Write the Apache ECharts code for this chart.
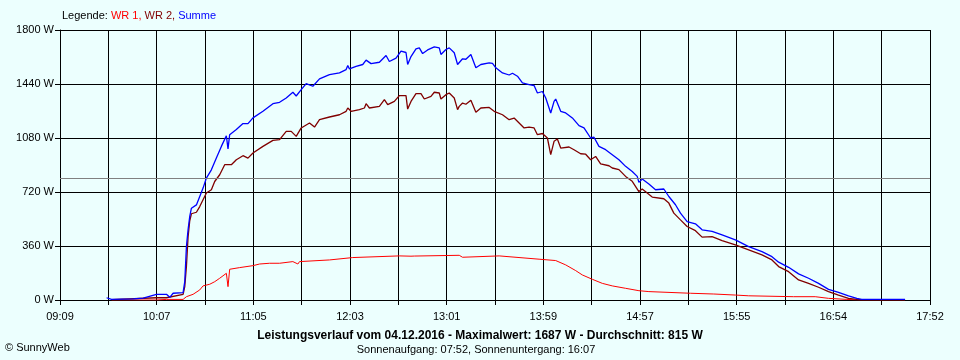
<!DOCTYPE html>
<html>
<head>
<meta charset="utf-8">
<script src="https://cdn.jsdelivr.net/npm/echarts@6/dist/echarts.min.js"></script>
<style>
  html, body { margin: 0; padding: 0; background: #ecfffe; }
  #chart { width: 960px; height: 360px; }
</style>
</head>
<body>
<div id="chart"></div>
<script>
// ---- data (time of day, watts) ----
const xTickLabels = ["09:09","10:07","11:05","12:03","13:01","13:59","14:57","15:55","16:54","17:52"];
const yTickValues = [0, 360, 720, 1080, 1440, 1800];
const averageValue = 815;

const wr1 = [
  ["09:40",0],["10:07",0],["10:13",4],["10:23",4],["10:25",22],["10:29",38],["10:33",67],["10:35",94],
  ["10:39",105],["10:42",122],["10:45",145],["10:49",178],["10:50",89],["10:51",205],["10:57",216],
  ["11:05",229],["11:09",240],["11:15",245],["11:21",245],["11:29",256],["11:32",240],["11:33",256],
  ["11:51",267],["12:05",283],["12:33",294],["12:40",292],["12:41",282],["12:42",293],["13:09",298],
  ["13:11",285],["13:12",298],["13:33",294],["13:57",272],["14:07",263],["14:13",234],["14:19",196],
  ["14:23",167],["14:29",138],["14:35",111],["14:41",94],["14:49",78],["14:57",62],["15:03",56],
  ["15:28",45],["15:42",40],["15:55",33],["16:03",28],["16:30",22],["16:43",22],["16:44",16],
  ["16:51",11],["17:02",4],["17:10",0],["17:37",0]
];

const wr2 = [
  ["09:40",3],["10:07",15],["10:13",15],["10:23",38],["10:24",89],["10:25",223],["10:26",420],["10:27",528],
  ["10:28",575],["10:31",585],["10:33",623],["10:35",668],["10:37",713],["10:40",735],["10:42",790],
  ["10:45",835],["10:48",902],["10:49",910],["10:52",902],["10:55",935],["10:59",962],["11:02",946],
  ["11:05",980],["11:11",1024],["11:17",1064],["11:21",1069],["11:25",1124],["11:28",1124],["11:31",1091],
  ["11:34",1147],["11:39",1180],["11:42",1153],["11:45",1202],["11:51",1220],["11:57",1235],["12:01",1258],
  ["12:02",1280],["12:04",1258],["12:09",1269],["12:12",1280],["12:13",1309],["12:15",1280],["12:21",1291],
  ["12:24",1336],["12:26",1302],["12:30",1324],["12:33",1363],["12:37",1363],["12:38",1273],["12:40",1324],
  ["12:43",1376],["12:46",1376],["12:48",1340],["12:52",1358],["12:54",1385],["12:57",1380],["12:58",1340],
  ["13:01",1369],["13:03",1380],["13:06",1347],["13:08",1269],["13:09",1291],["13:11",1313],["13:13",1305],
  ["13:16",1331],["13:19",1251],["13:22",1280],["13:27",1284],["13:30",1258],["13:35",1235],["13:39",1202],
  ["13:42",1213],["13:45",1180],["13:48",1147],["13:51",1153],["13:54",1147],["13:56",1102],["13:59",1110],
  ["14:02",1080],["14:04",969],["14:06",1058],["14:08",1073],["14:10",1013],["14:15",1020],["14:18",1002],
  ["14:22",975],["14:25",972],["14:28",935],["14:31",957],["14:34",908],["14:39",895],["14:41",880],
  ["14:45",869],["14:49",824],["14:53",791],["14:57",723],["14:59",740],["15:05",686],["15:12",675],
  ["15:15",646],["15:18",579],["15:22",534],["15:26",490],["15:31",462],["15:35",419],["15:41",423],
  ["15:47",396],["15:55",367],["16:03",334],["16:11",301],["16:17",267],["16:21",223],["16:27",189],
  ["16:33",134],["16:39",111],["16:45",85],["16:51",56],["16:57",33],["17:03",11],["17:08",4],["17:37",2]
];

const summe = [
  ["09:37",15],["09:38",15],["09:40",4],["09:53",7],["09:59",13],["10:07",38],["10:13",38],["10:15",18],
  ["10:17",45],["10:23",49],["10:24",122],["10:25",356],["10:26",470],["10:27",557],["10:28",612],
  ["10:31",634],["10:33",690],["10:35",746],["10:37",813],["10:40",868],["10:43",946],["10:46",1024],
  ["10:49",1095],["10:50",1007],["10:51",1102],["10:55",1136],["10:59",1176],["11:02",1176],["11:05",1214],
  ["11:11",1258],["11:17",1309],["11:21",1318],["11:25",1347],["11:29",1385],["11:31",1360],["11:34",1403],
  ["11:37",1443],["11:41",1425],["11:45",1474],["11:51",1503],["11:57",1514],["12:01",1536],["12:02",1563],
  ["12:03",1541],["12:07",1558],["12:11",1570],["12:13",1599],["12:16",1576],["12:21",1585],["12:25",1630],
  ["12:27",1590],["12:31",1612],["12:34",1659],["12:37",1650],["12:38",1570],["12:40",1623],["12:43",1674],
  ["12:45",1681],["12:47",1643],["12:50",1667],["12:54",1687],["12:57",1681],["12:58",1637],["13:01",1670],
  ["13:03",1681],["13:06",1648],["13:08",1570],["13:09",1581],["13:11",1608],["13:13",1605],["13:16",1637],
  ["13:19",1548],["13:22",1570],["13:27",1581],["13:29",1577],["13:31",1548],["13:35",1514],["13:39",1500],
  ["13:41",1512],["13:44",1492],["13:47",1447],["13:51",1436],["13:54",1430],["13:56",1380],["13:59",1390],
  ["14:01",1347],["14:04",1247],["14:06",1324],["14:07",1340],["14:10",1258],["14:13",1247],["14:17",1214],
  ["14:21",1162],["14:24",1147],["14:28",1080],["14:30",1085],["14:33",1024],["14:37",1002],["14:41",969],
  ["14:45",935],["14:49",891],["14:53",857],["14:56",824],["14:57",784],["14:59",806],["15:03",773],
  ["15:07",735],["15:12",740],["15:15",690],["15:19",635],["15:22",579],["15:26",523],["15:31",508],
  ["15:35",468],["15:41",457],["15:47",434],["15:55",401],["16:03",356],["16:11",323],["16:17",289],
  ["16:21",252],["16:27",218],["16:33",174],["16:39",145],["16:45",111],["16:51",71],["16:57",51],
  ["17:03",27],["17:08",11],["17:11",4],["17:37",4]
];

// ---- helpers ----
const START_MIN = 9 * 60 + 9;            // 09:09
const SPAN_MIN = 17 * 60 + 52 - START_MIN; // 523 minutes
const SCALE = 18;                          // 18 grid intervals across the span
const TICK = SPAN_MIN;                     // interval in scaled units
function toX(t) {
  const p = t.split(':').map(Number);
  return (p[0] * 60 + p[1] - START_MIN) * SCALE;
}
function toSeries(arr) { return arr.map(d => [toX(d[0]), d[1]]); }

const FONT = '"Liberation Sans", Arial, sans-serif';

const chart = echarts.init(document.getElementById('chart'), null, { renderer: 'canvas' });
chart.setOption({
  animation: false,
  backgroundColor: '#ecfffe',
  grid: { left: 60, right: 30, top: 30, bottom: 60, containLabel: false },
  xAxis: {
    type: 'value',
    min: 0,
    max: SPAN_MIN * SCALE,
    interval: TICK,
    axisLine: { show: true, lineStyle: { color: '#000', width: 1 } },
    axisTick: { show: true, length: 5, lineStyle: { color: '#000' } },
    axisLabel: {
      show: true, margin: 11, color: '#000', fontFamily: FONT, fontSize: 11,
      showMinLabel: true, showMaxLabel: true,
      formatter: function (v) {
        const idx = Math.round(v / TICK);
        return idx % 2 === 0 ? (xTickLabels[idx / 2] || '') : '';
      }
    },
    splitLine: { show: true, lineStyle: { color: '#000', width: 1 } }
  },
  yAxis: {
    type: 'value',
    min: yTickValues[0],
    max: yTickValues[yTickValues.length - 1],
    interval: yTickValues[1] - yTickValues[0],
    axisLine: { show: true, lineStyle: { color: '#000', width: 1 } },
    axisTick: { show: true, length: 5, lineStyle: { color: '#000' } },
    axisLabel: {
      show: true, margin: 6, color: '#000', fontFamily: FONT, fontSize: 11,
      showMinLabel: true, showMaxLabel: true,
      formatter: function (v) { return String(Math.round(v)) + ' W'; }
    },
    splitLine: { show: true, lineStyle: { color: '#000', width: 1 } }
  },
  series: [
    {
      name: 'Durchschnitt', type: 'line', data: [], silent: true,
      markLine: {
        silent: true, symbol: 'none', animation: false,
        label: { show: false },
        lineStyle: { color: '#808080', type: 'solid', width: 1 },
        data: [{ yAxis: averageValue }]
      }
    },
    {
      name: 'WR 1', type: 'line', data: toSeries(wr1), showSymbol: false, symbol: 'none',
      lineStyle: { color: '#ff0000', width: 1 }, itemStyle: { color: '#ff0000' }
    },
    {
      name: 'WR 2', type: 'line', data: toSeries(wr2), showSymbol: false, symbol: 'none',
      lineStyle: { color: '#800000', width: 1.3 }, itemStyle: { color: '#800000' }
    },
    {
      name: 'Summe', type: 'line', data: toSeries(summe), showSymbol: false, symbol: 'none',
      lineStyle: { color: '#0000ff', width: 1.3 }, itemStyle: { color: '#0000ff' }
    }
  ],
  graphic: [
    {
      type: 'text', left: 62, top: 10,
      style: {
        text: '{k|Legende: }{a|WR 1, }{b|WR 2, }{c|Summe}',
        font: '11px ' + FONT,
        rich: {
          k: { fill: '#000', fontSize: 11, fontFamily: FONT },
          a: { fill: '#ff0000', fontSize: 11, fontFamily: FONT },
          b: { fill: '#800000', fontSize: 11, fontFamily: FONT },
          c: { fill: '#0000ff', fontSize: 11, fontFamily: FONT }
        }
      }
    },
    {
      type: 'text', x: 480, y: 336,
      style: {
        text: 'Leistungsverlauf vom 04.12.2016 - Maximalwert: 1687 W - Durchschnitt: 815 W',
        fill: '#000', font: 'bold 12px ' + FONT, align: 'center', verticalAlign: 'middle'
      }
    },
    {
      type: 'text', x: 476, y: 350,
      style: {
        text: 'Sonnenaufgang: 07:52, Sonnenuntergang: 16:07',
        fill: '#000', font: '11px ' + FONT, align: 'center', verticalAlign: 'middle'
      }
    },
    {
      type: 'text', x: 5, y: 348,
      style: {
        text: '© SunnyWeb',
        fill: '#000', font: '11px ' + FONT, align: 'left', verticalAlign: 'middle'
      }
    }
  ]
});
</script>
</body>
</html>
